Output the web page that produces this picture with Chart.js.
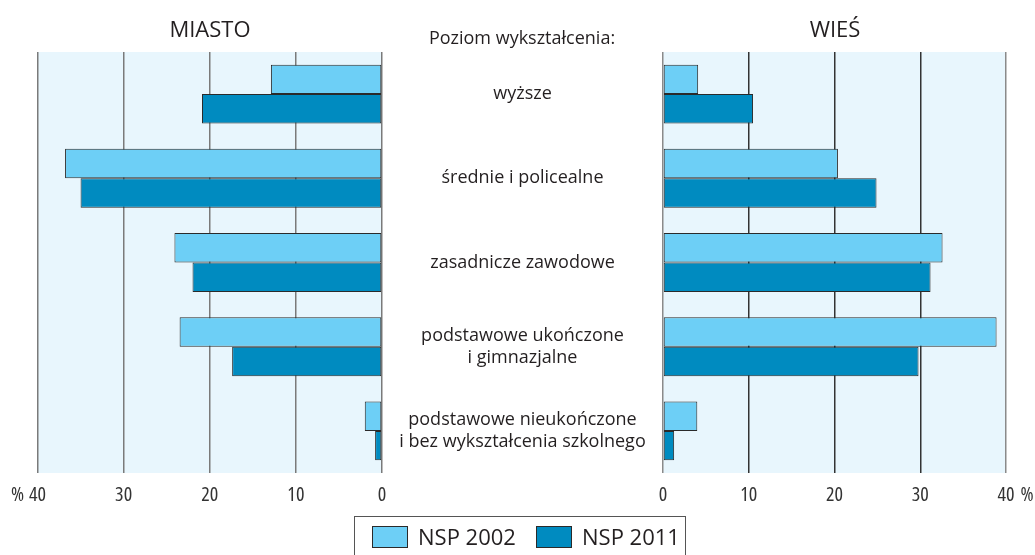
<!DOCTYPE html>
<html>
<head>
<meta charset="utf-8">
<script src="https://cdn.jsdelivr.net/npm/chart.js@4/dist/chart.umd.min.js"></script>
<style>
  html, body { margin: 0; padding: 0; background: #fff; }
  #wrap { position: relative; width: 1035px; height: 555px; overflow: hidden; font-family: "Open Sans", sans-serif; color: #231f20; }
  canvas { position: absolute; top: 0; }
  #left { left: 0; }
  #right { left: 382px; }
  .title { position: absolute; text-align: center; white-space: nowrap; }
  #legend { position: absolute; left: 354px; top: 516px; width: 332px; height: 50px; border: 1.5px solid #555; box-sizing: border-box; }
  .sw { position: absolute; top: 9px; width: 36px; height: 22px; border: 1px solid #2a2a2a; box-sizing: border-box; }
  .lt { position: absolute; top: 2px; font-size: 22px; line-height: 34px; white-space: nowrap; font-stretch: 90%; }
</style>
</head>
<body>
<div id="wrap">
  <canvas id="left" width="400" height="555"></canvas>
  <canvas id="right" width="653" height="555"></canvas>
  <div class="title" style="left:110px;width:200px;top:11px;font-size:22px;line-height:34px;">MIASTO</div>
  <div class="title" style="left:735px;width:200px;top:11px;font-size:22px;line-height:34px;">WIEŚ</div>
  <div class="title" style="left:422px;width:200px;top:23px;font-size:18px;line-height:28px;">Poziom wykształcenia:</div>
  <div id="legend">
    <div class="sw" style="left:17px;background:#6dcff6;"></div>
    <div class="lt" style="left:63px;">NSP 2002</div>
    <div class="sw" style="left:181px;background:#008bc0;"></div>
    <div class="lt" style="left:227px;">NSP 2011</div>
  </div>
</div>
<script>
// ----- Data -----
const categories = [
  "wyższe",
  "średnie i policealne",
  "zasadnicze zawodowe",
  ["podstawowe ukończone", "i gimnazjalne"],
  ["podstawowe nieukończone", "i bez wykształcenia szkolnego"],
];
const seriesNames = ["NSP 2002", "NSP 2011"];
const miasto2002 = [12.9, 36.8, 24.1, 23.5, 2.0];
const miasto2011 = [20.9, 35.0, 22.0, 17.4, 0.8];
const wies2002 = [4.1, 20.4, 32.6, 38.9, 4.0];
const wies2011 = [10.5, 24.9, 31.2, 29.8, 1.3];
const xTicks = [0, 10, 20, 30, 40];

const LIGHT = "#6dcff6";
const DARK = "#008bc0";
// weight string also carries a font-stretch keyword, so the ticks come out condensed
const tickFont = { family: "'Open Sans', 'DejaVu Sans Condensed', sans-serif", size: 20, weight: "normal condensed" };
const labelFont = { family: "'Open Sans', sans-serif", size: 18, lineHeight: 1.2 };

// Light blue fill behind the plot area
const plotBg = {
  id: "plotBg",
  beforeDraw(chart) {
    const { ctx, chartArea: a } = chart;
    ctx.save();
    ctx.fillStyle = "#e8f6fd";
    ctx.fillRect(a.left, a.top, a.right - a.left, a.bottom - a.top);
    ctx.restore();
  }
};

// "%" sign next to the 40 tick (left side: before, right side: after)
const percentSign = {
  id: "percentSign",
  afterDraw(chart, args, opts) {
    const { ctx } = chart;
    const x = chart.scales.x;
    const px = x.getPixelForValue(40);
    ctx.save();
    ctx.font = `${tickFont.weight} ${tickFont.size}px ${tickFont.family}`;
    ctx.fillStyle = "#333";
    ctx.textBaseline = "middle";
    const w = ctx.measureText("40").width;
    const y = x.top + 10 + tickFont.size * 0.6;
    if (opts.side === "left") {
      ctx.textAlign = "right";
      ctx.fillText("%", px - w / 2 - 5, y);
    } else {
      ctx.textAlign = "left";
      ctx.fillText("%", px + w / 2 + 6, y);
    }
    ctx.restore();
  }
};

function makeDatasets(a, b) {
  return [
    { label: seriesNames[0], data: a, backgroundColor: LIGHT },
    { label: seriesNames[1], data: b, backgroundColor: DARK },
  ].map(d => Object.assign(d, {
    borderColor: "#2a2a2a",
    borderWidth: 1,
    borderSkipped: false,
    categoryPercentage: 0.7,
    barPercentage: 1.0,
  }));
}

function xScale(reverse, gridColor) {
  return {
    type: "linear",
    min: 0,
    max: 40,
    reverse: reverse,
    afterBuildTicks: s => { s.ticks = xTicks.map(v => ({ value: v })); },
    afterFit: s => { s.height = 40; s.paddingLeft = 0; s.paddingRight = 0; },
    grid: { color: gridColor, lineWidth: 1.5, drawTicks: false },
    border: { display: false },
    ticks: { font: tickFont, color: "#333", padding: 10 },
  };
}

// measure widest label line so that the centred labels sit in the middle of the gap
const gap = 281;
const mctx = document.createElement("canvas").getContext("2d");
mctx.font = `${labelFont.size}px ${labelFont.family}`;
const widest = Math.max(...categories.flat().map(t => mctx.measureText(t).width));

Chart.defaults.animation = false;

const leftChart = new Chart(document.getElementById("left"), {
  type: "bar",
  data: { labels: categories, datasets: makeDatasets(miasto2002, miasto2011) },
  options: {
    indexAxis: "y",
    responsive: false,
    layout: { padding: { left: 37.5, right: 18, top: 52, bottom: 42 } },
    scales: {
      x: xScale(true, "#7a7a7a"),
      y: { display: false },
    },
    plugins: { legend: { display: false }, tooltip: { enabled: false }, percentSign: { side: "left" } },
  },
  plugins: [plotBg, percentSign],
});

const rightChart = new Chart(document.getElementById("right"), {
  type: "bar",
  data: { labels: categories, datasets: makeDatasets(wies2002, wies2011) },
  options: {
    indexAxis: "y",
    responsive: false,
    layout: { padding: { left: 0, right: 29, top: 52, bottom: 42 } },
    scales: {
      x: xScale(false, ctx => (ctx.tick && (ctx.tick.value === 0 || ctx.tick.value === 40)) ? "#8a8a8a" : "#333"),
      y: {
        position: "left",
        afterFit: s => { s.width = gap; s.paddingTop = 0; s.paddingBottom = 0; },
        grid: { display: false, drawTicks: false },
        border: { display: false },
        ticks: { font: labelFont, color: "#231f20", crossAlign: "center", padding: (gap - widest) / 2 },
      },
    },
    plugins: { legend: { display: false }, tooltip: { enabled: false }, percentSign: { side: "right" } },
  },
  plugins: [plotBg, percentSign],
});
</script>
</body>
</html>
